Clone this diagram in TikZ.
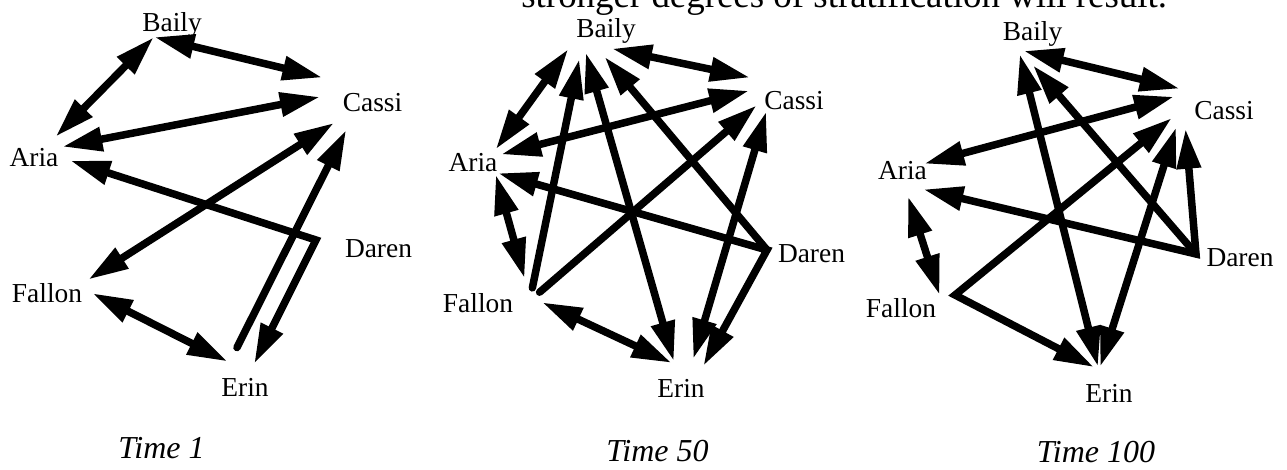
\documentclass[tikz,border=0pt]{standalone}
\usepackage{fontspec}
\setmainfont{Liberation Serif}
\usetikzlibrary{arrows.meta}

\tikzset{
  vertex/.style={circle, inner sep=0pt, minimum size=#1},
  person/.style={font=\fontsize{15.6}{18}\selectfont, inner sep=0pt, anchor=base},
  stamp/.style={font=\fontsize{18.2}{22}\selectfont\itshape, inner sep=0pt, anchor=base},
  tie/.style={line width=1.5mm, line join=miter, line cap=round},
  one/.style={tie, -{Triangle[length=8mm, width=4.6mm]}},
  both/.style={tie, {Triangle[length=8mm, width=4.6mm]}-{Triangle[length=8mm, width=4.6mm]}}
}

\begin{document}
\begin{tikzpicture}[x=0.2mm, y=-0.2mm]
  \useasboundingbox (0,0) rectangle (1287,470);
  \begin{scope}
    \clip (0,0) rectangle (1287,470);
    \node[font=\fontsize{21}{25}\selectfont, inner sep=0pt, anchor=base west] (note) at (521,8)
      {stronger degrees of stratification will result.};
  \end{scope}

  % hub of each person, one set per time step
  \foreach \n/\x/\y/\r in {A1/42/153/8.4mm, B1/154/37/0pt, C1/360/92/16mm,
                           D1/316/240/0pt, E1/240/372/6.4mm, F1/82/289/4.4mm,
                           A2/489/162/5.6mm, B2/590/36/10mm, C2/776/86/10.8mm,
                           D2/767/250/0pt, E2/686/380/8.8mm, F2/530/300/4.8mm,
                           A3/908/176/8mm, B3/1018/48/2.4mm, C3/1193/104/8mm,
                           D3/1196/254/0pt, E3/1098/382/6mm, F3/955/295/6mm} {
    \node[vertex=\r] (\n) at (\x,\y) {};
  }

  \foreach \n/\x/\y/\t in {Aria1/34/167/Aria, Baily1/172/32/Baily, Cassi1/372.5/112/Cassi,
                           Daren1/378.5/258/Daren, Erin1/245/397/Erin, Fallon1/47/303/Fallon,
                           Aria2/473/172/Aria, Baily2/606/38/Baily, Cassi2/794/110/Cassi,
                           Daren2/811.5/263/Daren, Erin2/681/398/Erin, Fallon2/478/313/Fallon,
                           Aria3/902.5/180/Aria, Baily3/1032.5/41/Baily, Cassi3/1224/120/Cassi,
                           Daren3/1240/267/Daren, Erin3/1109/403/Erin, Fallon3/901/318/Fallon} {
    \node[person] (\n) at (\x,\y) {\t};
  }

  \node[stamp] (T1) at (161.5,458) {Time 1};
  \node[stamp] (T50) at (657.5,462) {Time 50};
  \node[stamp] (T100) at (1096,463) {Time 100};

  % time 1
  \draw[both] (A1.50) -- (B1);
  \draw[both] (B1) -- (C1.159);
  \draw[both] (A1.17) -- (C1.187);
  \draw[both, shorten <=1.6mm] (A1.-14) -- (D1.center) -- (E1.30);
  \draw[one, shorten <=2.3mm] (E1.120) -- (C1.250);
  \draw[both] (C1.230) -- (F1.56);
  \draw[both] (F1.-22) -- (E1.140);

  % time 50
  \draw[both] (A2.62) -- (B2.211);
  \draw[both] (B2.-30) -- (C2.162);
  \draw[both] (C2.190) -- (A2.32);
  \draw[both] (A2.-51) -- (D2.center) -- (E2.39);
  \draw[one] (D2.center) -- (B2.-55);
  \draw[one] (F2.79) -- (B2.245);
  \draw[both, shorten <=-1.8mm] (B2.266) -- (E2.123);
  \draw[one] (F2.39) -- (C2.225);
  \draw[both] (C2.249) -- (E2.71);
  \draw[both, shorten >=2mm] (A2.-62) -- (F2.103);
  \draw[both] (F2.-11) -- (E2.130);

  % time 100
  \draw[both] (B3.-27) -- (C3.131);
  \draw[both] (C3.159) -- (A3.37);
  \draw[both, shorten >=1.2mm] (A3.-41) -- (D3.center) -- (C3.247);
  \draw[one, shorten >=3.3mm] (D3.center) -- (B3);
  \draw[both] (B3.-74) -- (E3.90);
  \draw[both, shorten <=1.8mm] (C3.226) -- (E3.82);
  \draw[both, shorten <=1mm] (C3.212) -- (F3.center) -- (E3.105);
  \draw[both] (A3.270) -- (F3.180);
\end{tikzpicture}
\end{document}
